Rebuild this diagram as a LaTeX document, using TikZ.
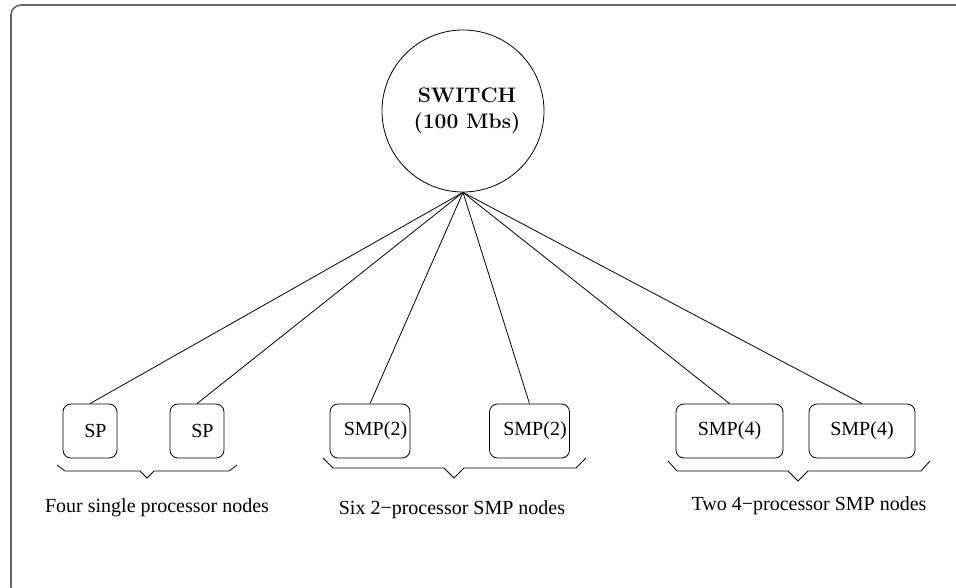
\documentclass[tikz,border=0pt]{standalone}
\usepackage{fontspec}
\newfontfamily\labelfont{Liberation Serif}
\begin{document}
\begin{tikzpicture}[x=1pt,y=-1pt,
  frameline/.style={draw=black!60, line width=1.6pt, rounded corners=10pt},
  hub/.style={circle, draw, line width=0.8pt, minimum size=162pt, inner sep=0pt,
    align=center, font=\bfseries\fontsize{21}{26}\selectfont},
  unit/.style={draw, line width=0.8pt, rounded corners=8pt, minimum height=54pt,
    inner sep=0pt, font=\labelfont\fontsize{20}{24}\selectfont},
  link/.style={line width=0.8pt},
  brace/.style={line width=0.8pt, line join=miter},
  caption/.style={anchor=base, inner sep=0pt, font=\labelfont\fontsize{20}{24}\selectfont}]
\useasboundingbox (0,0) rectangle (956,588);

% outer frame, running past the right and bottom edges
\begin{scope}
  \clip (0,0) rectangle (956,588);
  \path[frameline] (11,5) rectangle (975,596);
\end{scope}

% central switch
\node[hub] (switch) at (463,111) {\hspace*{8pt}SWITCH\\\hspace*{8pt}(100 Mbs)};

% processing nodes
\node[unit, minimum width=54pt]  (sp1)  at (90,431)    {\hspace*{11pt}SP};
\node[unit, minimum width=54pt]  (sp2)  at (197,431)   {\hspace*{11pt}SP};
\node[unit, minimum width=80pt]  (smpa) at (370,431)   {\hspace*{11pt}SMP(2)};
\node[unit, minimum width=80pt]  (smpb) at (529.5,431) {\hspace*{11pt}SMP(2)};
\node[unit, minimum width=107pt] (smpc) at (729.5,431) {SMP(4)};
\node[unit, minimum width=106pt] (smpd) at (862,431)   {SMP(4)};

% links from the switch
\foreach \n in {sp1,sp2,smpa,smpb,smpc,smpd}
  \draw[link] (switch.south) -- (\n.north);

% group braces
\draw[brace] (57,465) -- (65,471) -- (140,471) -- (147,478) -- (154,471) -- (229,471) -- (237,465);
\draw[brace] (323,458) -- (333,468) -- (444,468) -- (454,478) -- (464,468) -- (576,468) -- (586,458);
\draw[brace] (668,461) -- (677,471) -- (788,471) -- (798,481) -- (808,471) -- (921,471) -- (930,461);

% group captions
\node[caption] (cap1) at (157,512) {Four single processor nodes};
\node[caption] (cap2) at (452,514) {Six 2−processor SMP nodes};
\node[caption] (cap3) at (809,510) {Two 4−processor SMP nodes};
\end{tikzpicture}
\end{document}
